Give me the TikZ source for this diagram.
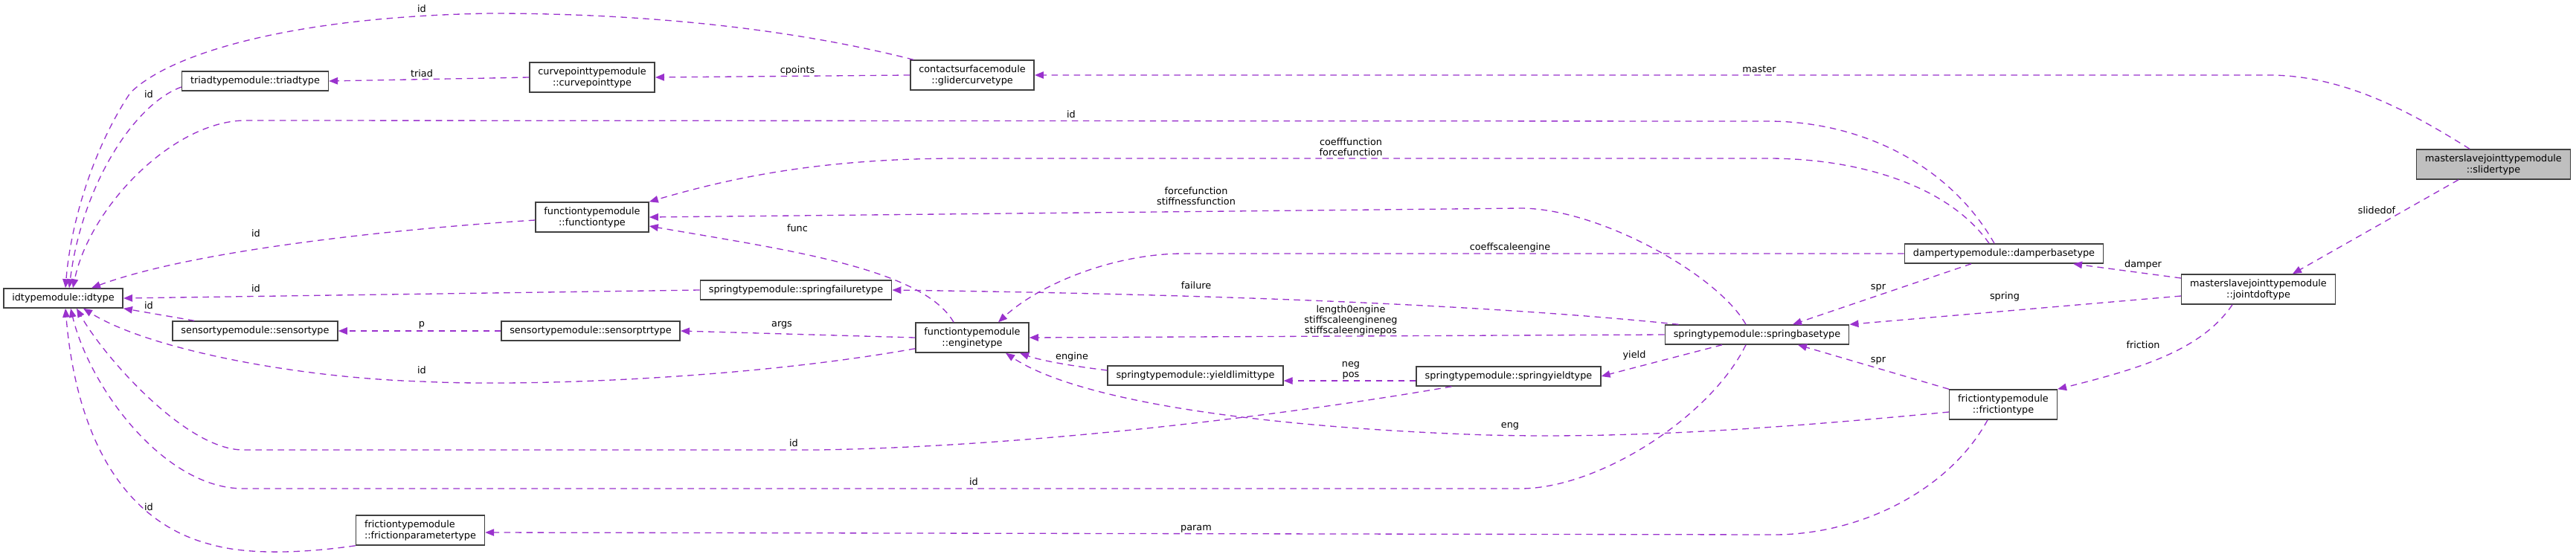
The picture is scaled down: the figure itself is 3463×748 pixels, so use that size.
\documentclass[tikz,border=0pt]{standalone}
\usepackage{fontspec}
\setmainfont{DejaVu Sans}
\usetikzlibrary{arrows.meta,calc}
\definecolor{edgecol}{HTML}{9A32CD}
\definecolor{boxcol}{HTML}{404040}
\definecolor{hilite}{HTML}{BFBFBF}
\newcommand{\dxfont}{\fontsize{7.3}{8.5}\selectfont}
\newcommand{\lblfont}{\fontsize{7.3}{8.2}\selectfont}
\tikzset{
  cls/.style={draw=boxcol,line width=0.85pt,fill=white,font=\dxfont,align=center,
    inner xsep=0.23cm,inner ysep=0.1cm,minimum height=0.52cm},
  tall/.style={minimum height=0.8cm},
  mem/.style={edgecol,line width=0.75pt,dash pattern=on 0.17cm off 0.13cm,
    -{Triangle[length=0.24cm,width=0.19cm]}},
  lbl/.style={font=\lblfont,align=center,inner sep=0pt}
}
\begin{document}
\begin{tikzpicture}[x=0.02cm,y=-0.02cm]
    \useasboundingbox (0,0) rectangle (3463,748);

    \node[cls,tall,fill=hilite] (slider) at (3352,221) {masterslavejointtypemodule\\::slidertype};
    \node[cls,tall] (jointdof) at (3036,389) {masterslavejointtypemodule\\::jointdoftype};
    \node[cls] (damper) at (2694,341) {dampertypemodule::damperbasetype};
    \node[cls] (springbase) at (2362,450) {springtypemodule::springbasetype};
    \node[cls,tall] (friction) at (2693,544) {frictiontypemodule\\::frictiontype};
    \node[cls] (springyield) at (2028,506) {springtypemodule::springyieldtype};
    \node[cls] (yieldlim) at (1607,505) {springtypemodule::yieldlimittype};
    \node[cls,tall] (engine) at (1307,454) {functiontypemodule\\::enginetype};
    \node[cls] (failure) at (1070,390) {springtypemodule::springfailuretype};
    \node[cls,tall] (glider) at (1307,101) {contactsurfacemodule\\::glidercurvetype};
    \node[cls,tall] (curvept) at (796,104) {curvepointtypemodule\\::curvepointtype};
    \node[cls] (triad) at (343,109) {triadtypemodule::triadtype};
    \node[cls,tall] (functype) at (796,292) {functiontypemodule\\::functiontype};
    \node[cls] (sensorptr) at (794,445) {sensortypemodule::sensorptrtype};
    \node[cls] (sensor) at (343,445) {sensortypemodule::sensortype};
    \node[cls,tall,align=left] (frictparam) at (565,713) {frictiontypemodule\\::frictionparametertype};
    \node[cls] (idtype) at (85,401) {idtypemodule::idtype};

    % slidertype and jointdoftype
    \draw[mem] ($(slider.north)+(-32,0)$) .. controls (3240,150) and (3150,101) .. (3050,101) -- (glider.east);
    \draw[mem] ($(slider.south)+(-47,0)$) -- ($(jointdof.north)+(46,0)$);
    \draw[mem] ($(jointdof.west)+(0,-15)$) -- ($(damper.south)+(93,0)$);
    \draw[mem] ($(jointdof.west)+(0,9)$) -- (springbase.north east);
    \draw[mem] ($(jointdof.south)+(-35,0)$) .. controls (2960,470) and (2880,495) .. (friction.north east);
    \draw[mem] ($(damper.south)+(-44,0)$) -- ($(springbase.north)+(48,0)$);
    \draw[mem] (friction.north west) -- ($(springbase.south)+(55,0)$);

    % damperbasetype
    \draw[mem] ($(damper.north)+(-20,0)$) .. controls (2620,250) and (2500,213) .. (2377,213) -- (1290,213) .. controls (1100,213) and (980,240) .. (functype.north east);
    \draw[mem] ($(damper.north)+(-13,0)$) .. controls (2620,220) and (2500,163) .. (2377,163) -- (327,162) .. controls (230,165) and (120,280) .. ($(idtype.north)+(13,0)$);
    \draw[mem] (damper.west) -- (1591,341) .. controls (1500,341) and (1400,380) .. ($(engine.north)+(35,0)$);

    % upper row
    \draw[mem] ($(glider.north west)+(5,0)$) .. controls (1050,35) and (850,18) .. (660,18) .. controls (400,22) and (230,70) .. (175,125) .. controls (125,200) and (95,300) .. ($(idtype.north)+(3,0)$);
    \draw[mem] (glider.west) -- (curvept.east);
    \draw[mem] (curvept.west) -- (triad.east);
    \draw[mem] ($(triad.west)+(0,8)$) .. controls (180,140) and (110,250) .. ($(idtype.north)+(8,0)$);
    \draw[mem] ($(functype.west)+(0,4)$) .. controls (500,310) and (250,340) .. ($(idtype.north)+(38,0)$);
    \draw[mem] (failure.west) -- (idtype.east);
    \draw[mem] ($(sensor.north west)+(30,0)$) -- (idtype.south east);
    \draw[mem] (sensorptr.west) -- (sensor.east);

    % enginetype
    \draw[mem] (engine.west) -- (sensorptr.east);
    \draw[mem] ($(engine.south west)+(0,-6)$) .. controls (1000,510) and (700,520) .. (568,513) .. controls (400,508) and (200,470) .. ($(idtype.south)+(27,0)$);
    \draw[mem] ($(engine.north)+(-25,0)$) .. controls (1240,360) and (1050,335) .. ($(functype.east)+(0,12)$);

    % springbasetype
    \draw[mem] ($(springbase.north)+(-15,0)$) .. controls (2310,370) and (2150,280) .. (2044,280) -- (functype.east);
    \draw[mem] ($(springbase.north west)+(19,0)$) .. controls (2100,420) and (1800,398) .. (failure.east);
    \draw[mem] (springbase.west) -- (engine.east);
    \draw[mem] ($(springbase.south)+(-47,0)$) -- (springyield.east);
    \draw[mem] ($(springbase.south)+(-15,0)$) .. controls (2300,560) and (2150,657) .. (2044,657) -- (327,657) .. controls (220,657) and (120,520) .. ($(idtype.south)+(10,0)$);

    % yield types
    \draw[mem] ($(springyield.west)+(0,6)$) -- ($(yieldlim.east)+(0,7)$);
    \draw[mem] ($(yieldlim.west)+(0,-7)$) .. controls (1440,492) and (1400,485) .. ($(engine.south)+(64,0)$);
    \draw[mem] ($(springyield.south west)+(48,0)$) .. controls (1750,555) and (1400,600) .. (1100,605) -- (327,605) .. controls (250,605) and (140,480) .. ($(idtype.south)+(18,0)$);

    % frictiontype
    \draw[mem] ($(friction.west)+(0,10)$) .. controls (2400,575) and (2200,590) .. (2000,585) .. controls (1700,575) and (1450,540) .. ($(engine.south)+(45,0)$);
    \draw[mem] ($(friction.south)+(-21,0)$) .. controls (2620,660) and (2500,719) .. (2385,719) -- ($(frictparam.east)+(0,3)$);
    \draw[mem] (frictparam.south west) .. controls (400,745) and (330,745) .. (287,733) .. controls (150,700) and (100,560) .. ($(idtype.south)+(3,0)$);

    % labels
    \node[lbl] (lmaster) at (2365,93) {master};
    \node[lbl] (lslide) at (3195,283) {slidedof};
    \node[lbl] (ldamper) at (2881,356) {damper};
    \node[lbl] (lspring) at (2695,399) {spring};
    \node[lbl] (lfriction) at (2881,464) {friction};
    \node[lbl] (lspra) at (2525,387) {spr};
    \node[lbl] (lsprb) at (2525,485) {spr};
    \node[lbl] (lcoeff) at (1816,198) {coefffunction\\forcefunction};
    \node[lbl] (lforce) at (1608,264) {forcefunction\\stiffnessfunction};
    \node[lbl] (lcscale) at (2030,333) {coeffscaleengine};
    \node[lbl] (lfailure) at (1608,384) {failure};
    \node[lbl] (llength) at (1816,431) {length0engine\\stiffscaleengineneg\\stiffscaleenginepos};
    \node[lbl] (lyield) at (2197,478) {yield};
    \node[lbl] (lnegpos) at (1816,498) {neg\\pos};
    \node[lbl] (lengine) at (1441,480) {engine};
    \node[lbl] (leng) at (2030,573) {eng};
    \node[lbl] (lparam) at (1608,711) {param};
    \node[lbl] (lcpoints) at (1072,95) {cpoints};
    \node[lbl] (ltriad) at (567,99) {triad};
    \node[lbl] (lp) at (567,437) {p};
    \node[lbl] (largs) at (1051,437) {args};
    \node[lbl] (lfunc) at (1072,307) {func};
    \node[lbl] (lida) at (567,12) {id};
    \node[lbl] (lidb) at (1440,154) {id};
    \node[lbl] (lidc) at (200,127) {id};
    \node[lbl] (lidd) at (344,314) {id};
    \node[lbl] (lide) at (344,388) {id};
    \node[lbl] (lidf) at (200,411) {id};
    \node[lbl] (lidg) at (567,498) {id};
    \node[lbl] (lidh) at (1067,596) {id};
    \node[lbl] (lidi) at (1309,648) {id};
    \node[lbl] (lidj) at (200,682) {id};
\end{tikzpicture}
\end{document}
